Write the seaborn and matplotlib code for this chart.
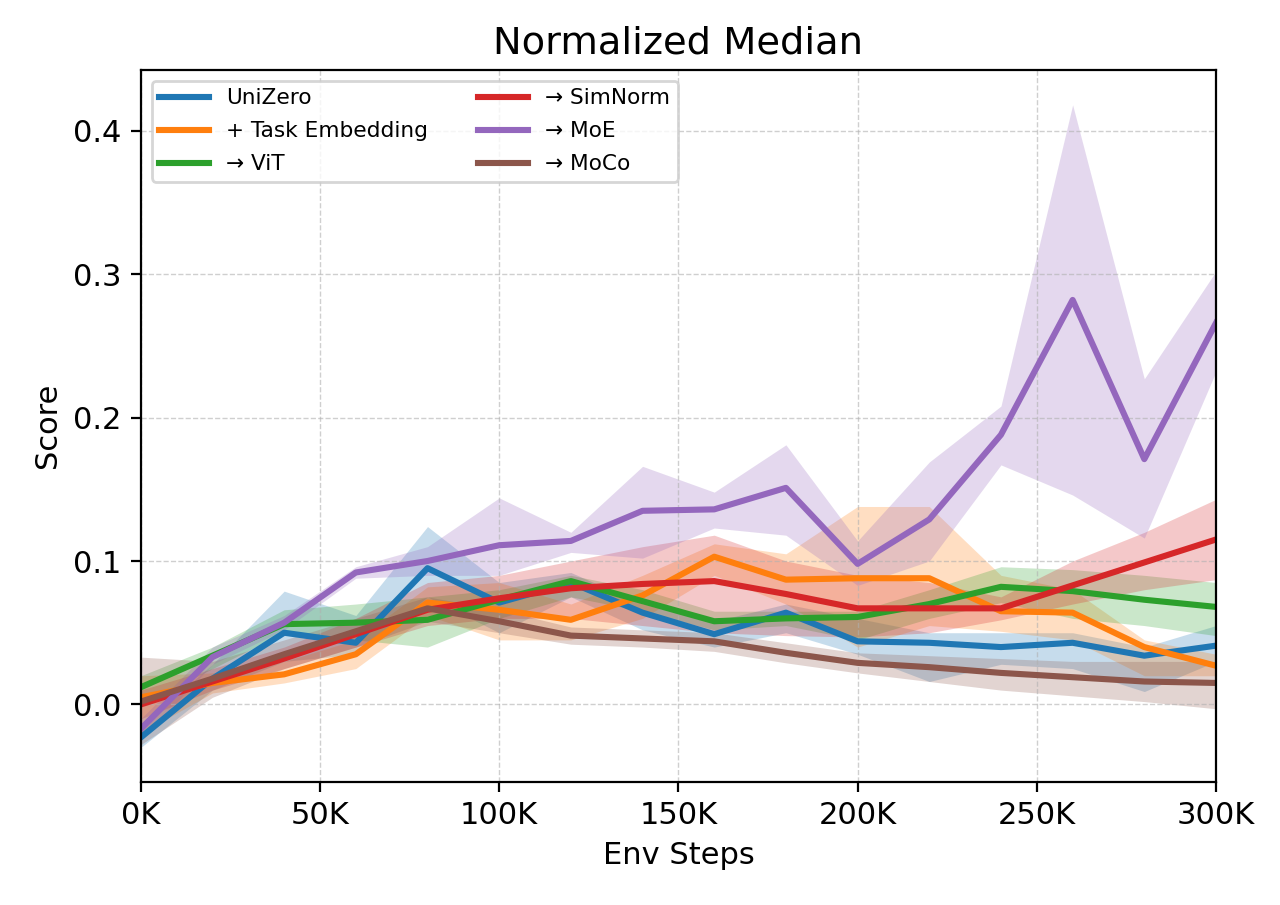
import matplotlib

matplotlib.use("Agg")
import matplotlib.pyplot as plt
import numpy as np
import pandas as pd
import seaborn as sns
from matplotlib.ticker import FuncFormatter


STEPS = [0, 20000, 40000, 60000, 80000, 100000, 120000, 140000,
         160000, 180000, 200000, 220000, 240000, 260000, 280000, 300000]

SERIES_NAMES = ["UniZero", "+ Task Embedding", "→ ViT", "→ SimNorm", "→ MoE", "→ MoCo"]

unizero = [-0.023, 0.018, 0.050, 0.043, 0.095, 0.071, 0.085, 0.064,
           0.049, 0.064, 0.044, 0.043, 0.040, 0.043, 0.034, 0.041]
unizero_lo = [-0.030, 0.010, 0.030, 0.035, 0.075, 0.050, 0.075, 0.052,
              0.040, 0.050, 0.035, 0.016, 0.028, 0.025, 0.009, 0.030]
unizero_hi = [-0.015, 0.028, 0.079, 0.062, 0.124, 0.085, 0.092, 0.070,
              0.058, 0.070, 0.060, 0.050, 0.050, 0.050, 0.040, 0.055]

task_emb = [0.005, 0.015, 0.021, 0.035, 0.071, 0.066, 0.059, 0.076,
            0.103, 0.087, 0.088, 0.088, 0.065, 0.064, 0.040, 0.027]
task_emb_lo = [-0.020, 0.008, 0.015, 0.025, 0.062, 0.045, 0.045, 0.060,
               0.090, 0.070, 0.040, 0.055, 0.051, 0.045, 0.020, 0.020]
task_emb_hi = [0.020, 0.022, 0.030, 0.045, 0.082, 0.085, 0.070, 0.090,
               0.112, 0.105, 0.138, 0.138, 0.090, 0.080, 0.045, 0.035]

vit = [0.012, 0.034, 0.056, 0.057, 0.059, 0.073, 0.086, 0.072,
       0.058, 0.060, 0.061, 0.070, 0.082, 0.079, 0.073, 0.068]
vit_lo = [0.000, 0.025, 0.050, 0.045, 0.040, 0.060, 0.075, 0.065,
          0.052, 0.055, 0.045, 0.060, 0.071, 0.060, 0.055, 0.048]
vit_hi = [0.020, 0.040, 0.066, 0.070, 0.075, 0.080, 0.090, 0.080,
          0.065, 0.065, 0.065, 0.080, 0.096, 0.094, 0.090, 0.085]

simnorm = [0.000, 0.016, 0.032, 0.049, 0.066, 0.074, 0.081, 0.084,
           0.086, 0.077, 0.067, 0.067, 0.067, 0.083, 0.099, 0.115]
simnorm_lo = [-0.010, 0.010, 0.025, 0.040, 0.055, 0.060, 0.060, 0.055,
              0.050, 0.048, 0.047, 0.050, 0.059, 0.070, 0.080, 0.087]
simnorm_hi = [0.010, 0.025, 0.040, 0.060, 0.085, 0.090, 0.100, 0.110,
              0.118, 0.100, 0.090, 0.085, 0.075, 0.100, 0.120, 0.143]

moe = [-0.017, 0.033, 0.057, 0.092, 0.100, 0.111, 0.114, 0.135,
       0.136, 0.151, 0.098, 0.129, 0.188, 0.282, 0.171, 0.266]
moe_lo = [-0.025, 0.028, 0.052, 0.088, 0.090, 0.090, 0.106, 0.102,
          0.123, 0.118, 0.083, 0.100, 0.167, 0.146, 0.116, 0.232]
moe_hi = [-0.010, 0.040, 0.062, 0.096, 0.110, 0.144, 0.120, 0.166,
          0.148, 0.181, 0.114, 0.169, 0.208, 0.418, 0.227, 0.302]

moco = [0.002, 0.018, 0.035, 0.051, 0.067, 0.058, 0.048, 0.046,
        0.044, 0.036, 0.029, 0.026, 0.022, 0.019, 0.016, 0.015]
moco_lo = [-0.028, 0.005, 0.025, 0.040, 0.058, 0.050, 0.042, 0.040,
           0.037, 0.029, 0.022, 0.016, 0.010, 0.006, 0.002, -0.003]
moco_hi = [0.033, 0.030, 0.045, 0.060, 0.075, 0.066, 0.054, 0.052,
           0.050, 0.043, 0.036, 0.034, 0.032, 0.030, 0.030, 0.030]

MEANS = [unizero, task_emb, vit, simnorm, moe, moco]
LOWS = [unizero_lo, task_emb_lo, vit_lo, simnorm_lo, moe_lo, moco_lo]
HIGHS = [unizero_hi, task_emb_hi, vit_hi, simnorm_hi, moe_hi, moco_hi]


def main():
    rows = []
    for name, values in zip(SERIES_NAMES, MEANS):
        for step, value in zip(STEPS, values):
            rows.append({"step": step, "score": value, "method": name})
    df = pd.DataFrame(rows)

    palette = sns.color_palette("tab10", len(SERIES_NAMES))

    fig, ax = plt.subplots(figsize=(6.4, 4.525), dpi=200)
    fig.subplots_adjust(left=0.110, right=0.950, top=0.923, bottom=0.136)

    for color, lo, hi in zip(palette, LOWS, HIGHS):
        ax.fill_between(STEPS, lo, hi, color=color, alpha=0.25, linewidth=0)

    sns.lineplot(
        data=df,
        x="step",
        y="score",
        hue="method",
        hue_order=SERIES_NAMES,
        palette=palette,
        linewidth=2.2,
        ax=ax,
    )

    ax.set_xlim(0, 300000)
    ax.set_ylim(-0.054, 0.4425)
    ax.xaxis.set_major_formatter(FuncFormatter(lambda v, _: f"{v / 1000:.0f}K"))
    ax.grid(True, linestyle="--", linewidth=0.5, color="#b0b0b0", alpha=0.6)
    ax.set_title("Normalized Median", fontsize=13.8)
    ax.set_xlabel("Env Steps", fontsize=11)
    ax.set_ylabel("Score", fontsize=11)
    ax.tick_params(labelsize=11)
    ax.legend(loc="upper left", ncol=2, fontsize=7.8, frameon=True,
              columnspacing=2.3, handlelength=2.3, labelspacing=0.6,
              borderpad=0.35)

    fig.savefig("out.png", dpi=200)
    plt.close(fig)


if __name__ == "__main__":
    main()
